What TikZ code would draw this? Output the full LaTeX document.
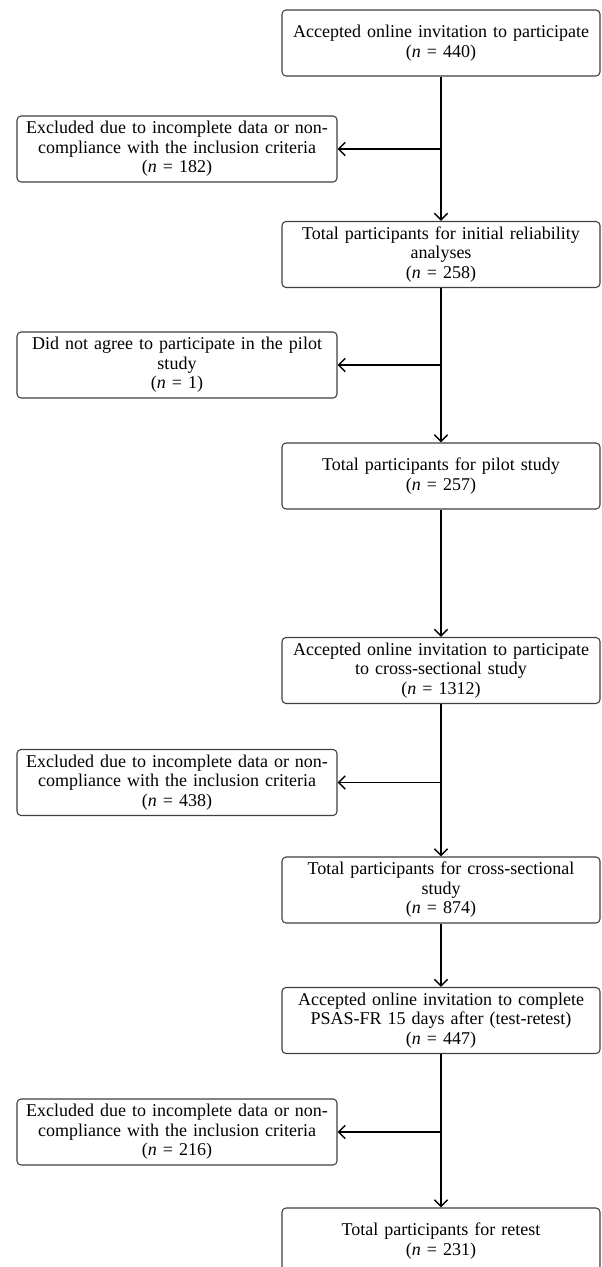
\documentclass[tikz,border=0pt]{standalone}
\usepackage{fontspec}
\setmainfont{Liberation Serif}
\usetikzlibrary{arrows.meta}
\begin{document}
\begin{tikzpicture}[x=0.75pt,y=-0.75pt,
  box/.style={draw=black!75, line width=0.8pt, rounded corners=3pt, fill=white,
    minimum height=49.5pt, align=center, inner sep=1pt,
    font=\fontsize{13.5}{14.6}\selectfont},
  rbox/.style={box, minimum width=238.5pt, text width=236pt},
  lbox/.style={box, minimum width=240pt, text width=238pt},
  conn/.style={line width=1.2pt, draw=black, -{Straight Barb[length=5pt,width=10pt,line width=1.1pt]}}]
\clip (0,0) rectangle (601,1267);
\fill[white] (0,0) rectangle (601,1267);

\node[rbox] (b1) at (441,43) {Accepted online invitation to participate\\(\textit{n} = 440)};
\node[lbox] (l1) at (177,149) {Excluded due to incomplete data or non-\\compliance with the inclusion criteria\\(\textit{n} = 182)};
\node[rbox] (b2) at (441,254.5) {Total participants for initial reliability\\analyses\\(\textit{n} = 258)};
\node[lbox] (l2) at (177,365) {Did not agree to participate in the pilot\\study\\(\textit{n} = 1)};
\node[rbox] (b3) at (441,476) {Total participants for pilot study\\(\textit{n} = 257)};
\node[rbox] (b4) at (441,670.5) {Accepted online invitation to participate\\to cross-sectional study\\(\textit{n} = 1312)};
\node[lbox] (l3) at (177,782.5) {Excluded due to incomplete data or non-\\compliance with the inclusion criteria\\(\textit{n} = 438)};
\node[rbox] (b5) at (441,890) {Total participants for cross-sectional\\study\\(\textit{n} = 874)};
\node[rbox] (b6) at (441,1020.5) {Accepted online invitation to complete\\PSAS-FR 15 days after (test-retest)\\(\textit{n} = 447)};
\node[lbox] (l4) at (177,1132) {Excluded due to incomplete data or non-\\compliance with the inclusion criteria\\(\textit{n} = 216)};
\node[rbox] (b7) at (441,1241) {Total participants for retest\\(\textit{n} = 231)};

\draw[conn] (b1) -- (b2);
\draw[conn] (b1.south |- l1.east) -- (l1.east);
\draw[conn] (b2) -- (b3);
\draw[conn] (b2.south |- l2.east) -- (l2.east);
\draw[conn] (b3) -- (b4);
\draw[conn] (b4) -- (b5);
\draw[conn] (b4.south |- l3.east) -- (l3.east);
\draw[conn] (b5) -- (b6);
\draw[conn] (b6) -- (b7);
\draw[conn] (b6.south |- l4.east) -- (l4.east);
\end{tikzpicture}
\end{document}
